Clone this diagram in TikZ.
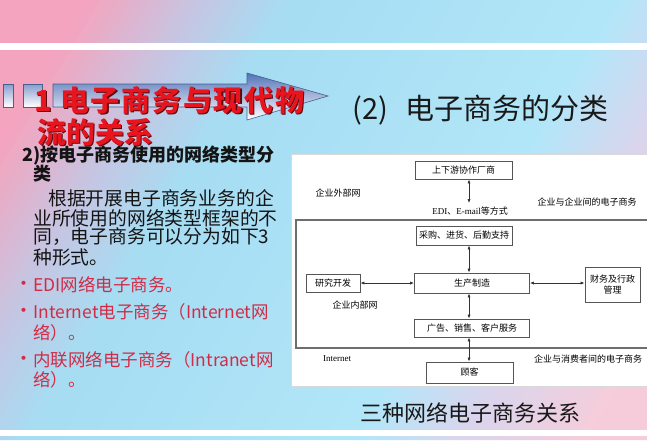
\documentclass[tikz,border=0pt]{standalone}
\usepackage{fontspec}
\setmainfont{Noto Sans CJK SC}
\newfontfamily\tms{Liberation Serif}
\usetikzlibrary{arrows.meta}
\newcommand\fs[1]{\fontsize{#1pt}{#1pt}\selectfont}
\definecolor{bgpink}{HTML}{F4A4BE}
\definecolor{bglav}{HTML}{C9C3E0}
\definecolor{bgblue}{HTML}{A6DDF3}
\definecolor{bgblueb}{HTML}{B2E6F8}
\definecolor{bglavb}{HTML}{D8D6EE}
\definecolor{bgpinkb}{HTML}{F6CCDA}
\definecolor{titlered}{HTML}{E8141E}
\definecolor{titleshadow}{HTML}{5A0A10}
\definecolor{bulletred}{HTML}{D22B46}
\definecolor{arrtop}{HTML}{5373B8}
\definecolor{arrmid}{HTML}{B8C7E4}
\definecolor{arrline}{HTML}{46608F}
\definecolor{boxc}{HTML}{555555}
\definecolor{framec}{HTML}{6E6E6E}
\begin{document}
\begin{tikzpicture}[x=1pt,y=-1pt,
  box/.style={draw=boxc, line width=0.9pt, fill=white, inner sep=0pt, font=\fs{9}, text=black, align=center},
  lbl/.style={inner sep=0pt, font=\fs{9}, text=black},
  dar/.style={{Latex[length=4pt,width=3.2pt]}-{Latex[length=4pt,width=3.2pt]}, line width=0.7pt, draw=black!80},
  lefttext/.style={anchor=west, inner sep=0pt, font=\fs{18.8}, text=black!92},
  bullettext/.style={anchor=west, inner sep=0pt, font=\fs{17.5}, text=bulletred},
  bulletdot/.style={anchor=center, inner sep=0pt, font=\fs{19}, text=bulletred},
  redtitle/.style={anchor=west, inner sep=0pt, font=\fs{29}\bfseries\addfontfeature{LetterSpace=6}},
  redtitleb/.style={anchor=west, inner sep=0pt, font=\fs{29}\bfseries}]
\useasboundingbox (0,0) rectangle (647,440);
% background diagonal gradient
\begin{scope}
\clip (0,0) rectangle (647,440);
\foreach \pa/\pb/\ca/\cb in {-300/90/bgpink/bgpink, 90/190/bgpink/bglav, 190/290/bglav/bgblue, 290/620/bgblue/bgblueb, 620/720/bgblueb/bglavb, 720/850/bglavb/bgpinkb, 850/1300/bgpinkb/bgpinkb}{
  \foreach \k in {0,...,9}{
    \pgfmathsetmacro\qa{\pa+(\pb-\pa)*\k/10}
    \pgfmathsetmacro\qb{\pa+(\pb-\pa)*(\k+1)/10+0.8}
    \pgfmathtruncatemacro\m{95-\k*10}
    \fill[\ca!\m!\cb] (\qa,0) -- (\qb,0) -- (\qb-264,440) -- (\qa-264,440) -- cycle;
  }
}
\end{scope}
\fill[white] (0,43) rectangle (647,50);
\fill[white] (0,430) rectangle (647,436);
% block arrow and squares
\shade[top color=arrtop!70, bottom color=white, draw=arrline, line width=0.6pt] (3,84) rectangle (13,107);
\shade[top color=arrtop!70, bottom color=white, draw=arrline, line width=0.6pt] (23,84) rectangle (42,107);
\shade[top color=arrtop, middle color=arrmid, bottom color=white, draw=arrline, line width=0.6pt]
  (53,84) -- (247,84) -- (247,73) -- (328,96) -- (247,120) -- (247,107) -- (53,107) -- cycle;
% red title
\node[redtitle, text=titleshadow] (t1s) at (35.3,101.3) {1 电子商务与现代物};
\node[redtitle, text=titlered] (t1) at (34,100) {1 电子商务与现代物};
\node[redtitleb, text=titleshadow] (t2s) at (38.3,133.3) {流的关系};
\node[redtitleb, text=titlered] (t2) at (37,132) {流的关系};
% right title
\node[anchor=west, inner sep=0pt, font=\fs{29}, text=black!90] (rt) at (352,110) {(2)\hspace{18pt}电子商务的分类};
% left text
\node[anchor=west, inner sep=0pt, font=\fs{18}\bfseries, text=black!92] (h1) at (22,156) {2)按电子商务使用的网络类型分};
\node[anchor=west, inner sep=0pt, font=\fs{18}\bfseries, text=black!92] (h2) at (33,174) {类};
\node[lefttext] (p1) at (48,198) {根据开展电子商务业务的企};
\node[lefttext] (p2) at (33,218) {业所使用的网络类型框架的不};
\node[lefttext] (p3) at (33,237) {同，电子商务可以分为如下3};
\node[lefttext] (p4) at (33,257) {种形式。};
\node[bulletdot] (b1d) at (23.5,286) {•};
\node[bullettext] (b1) at (33,285) {EDI网络电子商务。};
\node[bulletdot] (b2d) at (23.5,313) {•};
\node[bullettext] (b2) at (33,312) {Internet电子商务（Internet网};
\node[bullettext] (b2b) at (33,333) {络）。};
\node[bulletdot] (b3d) at (23.5,361) {•};
\node[bullettext] (b3) at (33,360) {内联网络电子商务（Intranet网};
\node[bullettext] (b3b) at (33,380) {络）。};
% diagram panel
\fill[white, draw=black!15, line width=0.4pt] (291,154) rectangle (650,386);
\draw[framec, line width=1.3pt] (296,220) rectangle (660,348);
\node[box, minimum width=97pt, minimum height=18pt] (up) at (463.5,170) {上下游协作厂商};
\node[box, minimum width=96pt, minimum height=19pt] (cg) at (464,235.5) {采购、进货、后勤支持};
\node[box, minimum width=115pt, minimum height=20pt] (sc) at (472,283) {生产制造};
\node[box, minimum width=54pt, minimum height=18pt] (yf) at (333,283) {研究开发};
\node[box, minimum width=55pt, minimum height=35pt] (cw) at (612.5,284.5) {财务及行政\\[2pt]管理};
\node[box, minimum width=115pt, minimum height=18pt] (gg) at (472,328) {广告、销售、客户服务};
\node[box, minimum width=87pt, minimum height=21pt] (gk) at (469.5,372.5) {顾客};
\node[lbl] (wb) at (338,193) {企业外部网};
\node[lbl] (qq) at (587,202) {企业与企业间的电子商务};
\node[lbl] (edi) at (470,211) {{\tms EDI}、{\tms E-mail}等方式};
\node[lbl] (nb) at (355,305) {企业内部网};
\node[lbl] (inet) at (337,359) {\tms Internet};
\node[lbl] (qx) at (588,359) {企业与消费者间的电子商务};
\coordinate (ax) at (469,0);
\coordinate (edie) at (469,203);
\draw[dar] (up.south -| ax) -- (edie);
\draw[dar] (cg.south -| ax) -- (sc.north -| ax);
\draw[dar] (sc.south -| ax) -- (gg.north -| ax);
\draw[dar] (gg.south -| ax) -- (gk.north -| ax);
\draw[dar] (yf.east) -- (sc.west);
\draw[dar] (sc.east) -- (cw.west |- sc.east);
% caption
\node[inner sep=0pt, font=\fs{22}, text=black!90] (cap) at (470.5,413) {三种网络电子商务关系};
\end{tikzpicture}
\end{document}
